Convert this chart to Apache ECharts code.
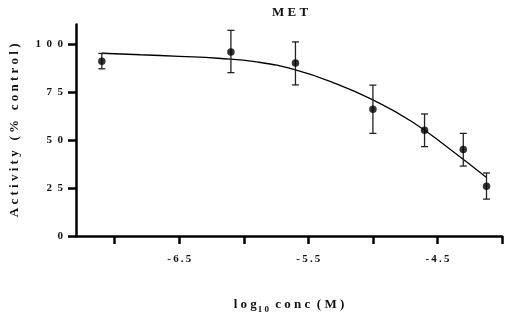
<!DOCTYPE html>
<html>
<head>
<meta charset="utf-8">
<script src="https://cdn.jsdelivr.net/npm/echarts@6/dist/echarts.min.js"></script>
<style>
  html, body { margin: 0; padding: 0; background: #fff; }
  #chart { width: 505px; height: 319px; }
</style>
</head>
<body>
<div id="chart"></div>
<script>
// measured points (log10 conc, mean activity, error bar ends)
const logConc = [-7.1, -6.1, -5.6, -5.0, -4.6, -4.3, -4.12];
const activity = [90.9, 95.8, 90.0, 66.0, 55.0, 45.0, 25.9];
const errHigh = [95.0, 107.0, 101.0, 78.5, 63.5, 53.4, 32.8];
const errLow = [87.0, 85.0, 78.6, 53.4, 46.5, 36.4, 19.2];

// fitted curve
const curveX = [-7.1, -6.8, -6.5, -6.2, -5.9, -5.6, -5.3, -5.0, -4.7, -4.4, -4.12];
const curveY = [95.1, 94.3, 93.5, 92.5, 90.6, 86.4, 79.6, 70.8, 59.6, 45.0, 30.4];

// tick labels
const xTicks = [-7, -6.5, -6, -5.5, -5, -4.5, -4];
const xLabels = [-6.5, -5.5, -4.5];
const yTicks = [0, 25, 50, 75, 100];

const FONT = '"Liberation Serif", "Times New Roman", serif';
const spaced = (s, sep) => String(s).split('').join(sep);

const chart = echarts.init(document.getElementById('chart'), null, { renderer: 'canvas' });

chart.setOption({
  animation: false,
  title: {
    text: spaced('MET', ' '),
    left: 285,
    top: 1,
    textAlign: 'center',
    textStyle: { fontFamily: FONT, fontWeight: 'bold', fontSize: 13, color: '#111' }
  },
  grid: { left: 70, right: 3, top: 24.6, bottom: 79 },
  xAxis: {
    type: 'value',
    min: -7.3,
    max: -4,
    name: 'l o g{sub|1 0} c o n c  ( M )',
    nameLocation: 'middle',
    nameGap: 59,
    nameTextStyle: {
      fontFamily: FONT, fontWeight: 'bold', fontSize: 13, color: '#111',
      rich: {
        sub: { fontFamily: FONT, fontWeight: 'bold', fontSize: 9, color: '#111', padding: [10, 3, 0, 1] }
      }
    },
    axisLine: { onZero: false, lineStyle: { color: '#000', width: 2.5 } },
    axisTick: { customValues: xTicks, length: 8, lineStyle: { color: '#000', width: 2.5 } },
    axisLabel: {
      customValues: xLabels,
      margin: 18,
      fontFamily: FONT, fontWeight: 'bold', fontSize: 11, color: '#111',
      formatter: v => spaced(v, '\u2009')
    },
    splitLine: { show: false }
  },
  yAxis: {
    type: 'value',
    min: 0,
    max: 110,
    name: spaced('Activity (% control)', ' '),
    nameLocation: 'middle',
    nameGap: 55,
    nameTextStyle: { fontFamily: FONT, fontWeight: 'bold', fontSize: 13, color: '#111' },
    axisLine: { show: true, lineStyle: { color: '#000', width: 2.5 } },
    axisTick: { show: true, customValues: yTicks, length: 8, lineStyle: { color: '#000', width: 2.5 } },
    axisLabel: {
      customValues: yTicks,
      margin: 13,
      fontFamily: FONT, fontWeight: 'bold', fontSize: 11, color: '#111',
      formatter: v => spaced(v, '\u2002')
    },
    splitLine: { show: false }
  },
  series: [
    {
      type: 'line',
      data: curveX.map((x, i) => [x, curveY[i]]),
      smooth: 0.5,
      symbol: 'none',
      lineStyle: { color: '#000', width: 1.3 },
      z: 2
    },
    {
      type: 'custom',
      data: logConc.map((x, i) => [x, errLow[i], errHigh[i]]),
      renderItem: (params, api) => {
        const lo = api.coord([api.value(0), api.value(1)]);
        const hi = api.coord([api.value(0), api.value(2)]);
        const cap = 3.5;
        const style = { stroke: '#222', lineWidth: 1.3 };
        return {
          type: 'group',
          children: [
            { type: 'line', shape: { x1: lo[0], y1: lo[1], x2: hi[0], y2: hi[1] }, style },
            { type: 'line', shape: { x1: lo[0] - cap, y1: lo[1], x2: lo[0] + cap, y2: lo[1] }, style },
            { type: 'line', shape: { x1: hi[0] - cap, y1: hi[1], x2: hi[0] + cap, y2: hi[1] }, style }
          ]
        };
      },
      z: 3
    },
    {
      type: 'scatter',
      data: logConc.map((x, i) => [x, activity[i]]),
      symbol: 'circle',
      symbolSize: 7.5,
      itemStyle: { color: '#000' },
      z: 4
    }
  ]
});
</script>
</body>
</html>
